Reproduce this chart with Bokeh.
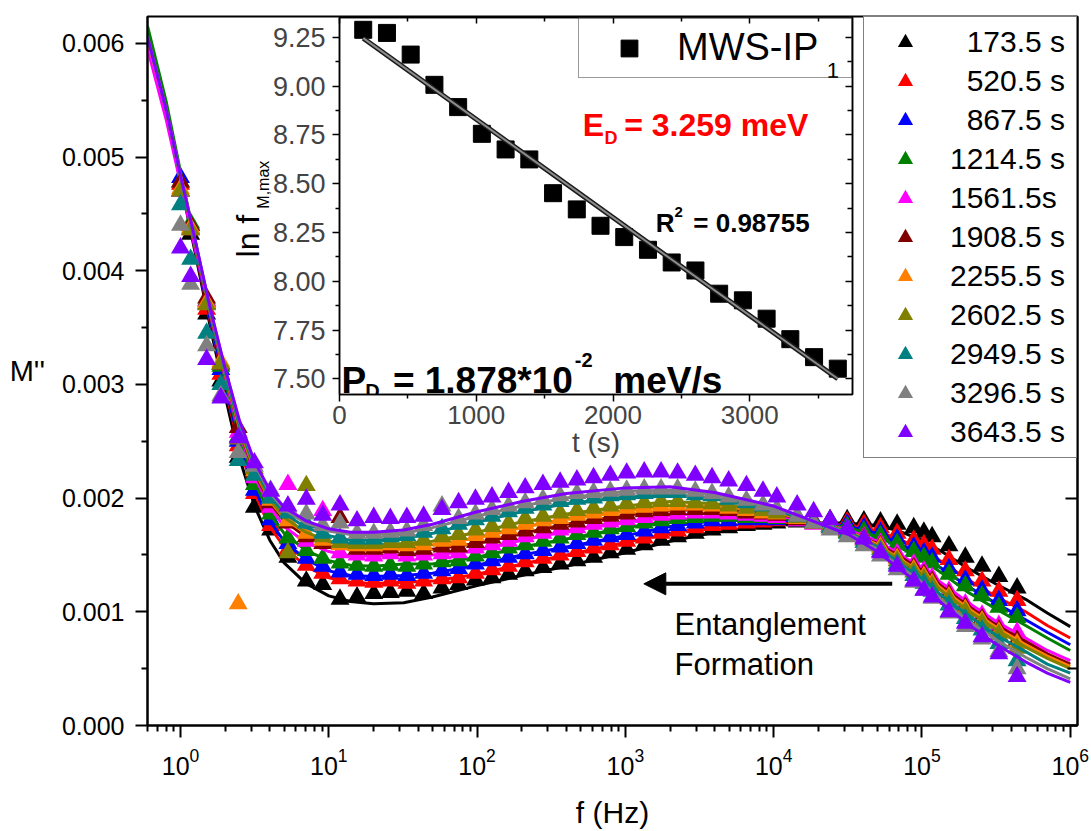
import numpy as np
from bokeh.plotting import figure
from bokeh.models import (Range1d, FixedTicker, NumeralTickFormatter, LinearAxis,
                          Legend, LegendItem, Label, Arrow, NormalHead,
                          ColumnDataSource, CustomJSTickFormatter)
from bokeh.layouts import column
from bokeh.embed import file_html
from bokeh.resources import INLINE

FONT = "Liberation Sans"

# ---------------- main chart data ----------------
# measured frequencies (Hz)
freq_hz = [1.0, 1.17, 1.5, 1.87, 2.45, 3.15, 4.05, 5.3, 7.05, 9.1,
           11.9, 15.5, 20.1, 26.0, 33.6, 43.6, 58.0, 75.0, 97.5, 126,
           163, 211, 278, 363, 471, 610, 791, 1020, 1340, 1740,
           2250, 2960, 3840, 4970, 6550, 8470, 10500, 14400, 18600, 24000,
           31300, 40600, 52500, 68000, 88000, 103000, 117000, 152000, 196000, 254000,
           330000, 438000]

# frequencies at which the fitted curves are tabulated (Hz)
fit_hz = [0.6, 0.8, 1.0, 1.26, 1.58, 2.0, 2.5, 3.16, 4.0, 5.0,
          7.0, 10, 14, 20, 32, 50, 100, 200, 400, 1000,
          2000, 4000, 1e4, 2e4, 3.2e4, 5e4, 7e4, 1e5, 1.4e5, 2e5,
          3.2e5, 5e5, 7e5, 1e6]

M_UNIT = 1e-5  # all M'' lists below are in units of 1e-5

m_173_5 = [470, 432, 362, 303, 236, 192, 172, 148, 127, 124, 111, 113, 116, 117, 118, 116, 121, 124, 128, 130,
           133, 136, 139, 142, 145, 148, 152, 155, 159, 163, 166, 169, 172, 174, 176, 177, 178, 179, 180, 181,
           181, 180, 179, 177, 174, 170, 166, 158, 148, 140, 131, 121]
m_520_5 = [476, 436, 366, 309, 246, 204, 176, 155, 141, 134, 129, 127, 126, 127, 125, 127, 129, 130, 134, 137,
           140, 144, 147, 150, 153, 156, 159, 162, 165, 169, 171, 174, 176, 177, 178, 179, 180, 180, 180, 180,
           179, 177, 174, 169, 163, 159, 155, 146, 136, 127, 118, 110]
m_867_5 = [482, 440, 371, 313, 250, 207, 181, 160, 147, 140, 135, 133, 132, 133, 132, 134, 136, 138, 142, 145,
           148, 151, 154, 157, 160, 163, 166, 168, 171, 174, 176, 178, 180, 180, 181, 181, 181, 180, 179, 178,
           177, 174, 170, 164, 157, 152, 148, 138, 128, 119, 110, 101]
m_1214_5 = [478, 442, 374, 316, 254, 212, 186, 165, 154, 147, 143, 141, 140, 141, 140, 142, 144, 145, 149, 152,
            156, 159, 162, 165, 168, 170, 173, 175, 178, 180, 182, 183, 184, 184, 183, 183, 182, 180, 178, 177,
            175, 171, 167, 160, 153, 148, 143, 133, 123, 114, 104, 95]
m_1561_5 = [470, 437, 373, 318, 258, 218, 192, 212, 162, 189, 152, 150, 149, 151, 149, 150, 151, 152, 156, 159,
            162, 166, 169, 172, 174, 177, 179, 181, 183, 185, 186, 187, 187, 186, 185, 184, 183, 180, 177, 175,
            172, 166, 160, 151, 142, 136, 130, 118, 107, 97, 88, 82]
m_1908_5 = [478, 440, 376, 318, 262, 222, 196, 178, 166, 160, 183, 155, 155, 156, 154, 155, 157, 157, 161, 165,
            168, 171, 174, 177, 179, 182, 184, 186, 188, 189, 190, 190, 190, 189, 187, 186, 185, 181, 178, 175,
            171, 165, 158, 148, 139, 133, 127, 115, 104, 94, 84, 75]
m_2255_5 = [472, 438, 372, 320, 107, 224, 198, 180, 169, 163, 159, 158, 158, 159, 158, 159, 162, 163, 167, 170,
            173, 177, 180, 182, 185, 187, 189, 191, 192, 193, 194, 194, 193, 191, 189, 187, 186, 182, 178, 175,
            170, 164, 157, 147, 137, 131, 125, 113, 102, 92, 82, 72]
m_2602_5 = [470, 436, 370, 318, 252, 226, 200, 152, 211, 166, 161, 160, 160, 161, 161, 163, 166, 168, 172, 175,
            178, 182, 184, 187, 189, 191, 193, 195, 196, 197, 197, 196, 195, 193, 191, 189, 187, 183, 178, 174,
            170, 163, 155, 145, 135, 129, 123, 111, 100, 90, 80, 68]
m_2949_5 = [458, 410, 345, 300, 233, 220, 200, 187, 178, 169, 165, 164, 164, 166, 167, 170, 173, 177, 181, 184,
            188, 191, 194, 197, 199, 200, 202, 203, 204, 205, 205, 203, 202, 199, 196, 193, 190, 184, 179, 174,
            169, 161, 153, 142, 132, 125, 118, 106, 94, 84, 72, 57]
m_3296_5 = [440, 388, 334, 290, 240, 228, 207, 192, 186, 176, 178, 169, 169, 170, 171, 176, 193, 182, 186, 190,
            193, 196, 199, 202, 204, 205, 206, 207, 208, 208, 208, 206, 204, 201, 198, 194, 190, 184, 178, 172,
            166, 158, 149, 137, 126, 119, 112, 99, 87, 76, 65, 50]
m_3643_5 = [420, 395, 322, 288, 253, 231, 206, 193, 199, 185, 194, 180, 183, 182, 183, 184, 190, 196, 199, 201,
            205, 209, 212, 214, 216, 218, 220, 222, 223, 223, 222, 220, 218, 215, 211, 206, 201, 194, 188, 181,
            173, 164, 152, 140, 127, 119, 113, 100, 90, 78, 63, 43]

fit_173_5 = [610, 540, 478, 415, 352, 290, 235, 193, 163, 143, 125, 114, 109, 107, 108, 113, 123, 132, 140, 152,
             162, 170, 176, 178, 178, 176, 171, 163, 152, 139, 124, 111, 99, 87]
fit_520_5 = [609, 541, 480, 418, 356, 297, 244, 204, 175, 157, 140, 130, 126, 125, 126, 127, 133, 142, 150, 161,
             169, 175, 179, 178, 176, 171, 164, 155, 143, 129, 113, 100, 88, 77]
fit_867_5 = [608, 541, 480, 419, 358, 299, 248, 208, 180, 162, 146, 136, 132, 131, 132, 134, 141, 150, 157, 167,
             175, 180, 181, 178, 175, 169, 160, 150, 137, 123, 107, 93, 82, 71]
fit_1214_5 = [615, 549, 487, 425, 362, 303, 253, 214, 186, 169, 154, 145, 141, 140, 142, 142, 148, 157, 164, 174,
              180, 183, 183, 178, 174, 166, 157, 146, 133, 118, 102, 88, 77, 66]
fit_1561_5 = [595, 533, 477, 419, 363, 306, 257, 219, 192, 175, 161, 153, 149, 149, 150, 150, 154, 163, 171, 179,
              185, 187, 185, 178, 172, 162, 151, 138, 124, 109, 91, 77, 66, 57]
fit_1908_5 = [606, 542, 483, 423, 364, 308, 260, 222, 196, 180, 166, 158, 155, 154, 156, 155, 160, 169, 177, 185,
              189, 190, 187, 178, 171, 160, 149, 136, 121, 106, 88, 74, 63, 54]
fit_2255_5 = [603, 542, 483, 424, 365, 309, 261, 224, 198, 182, 169, 161, 158, 157, 159, 159, 165, 174, 182, 189,
              193, 193, 188, 178, 171, 159, 147, 134, 119, 104, 86, 71, 61, 52]
fit_2602_5 = [606, 542, 483, 424, 365, 310, 262, 225, 199, 183, 170, 162, 159, 159, 160, 162, 170, 179, 186, 193,
              197, 195, 189, 178, 170, 158, 146, 133, 117, 102, 84, 69, 59, 50]
fit_2949_5 = [606, 542, 483, 425, 366, 311, 264, 228, 202, 187, 174, 167, 163, 163, 165, 169, 179, 188, 195, 201,
              203, 200, 190, 178, 170, 157, 143, 129, 113, 98, 79, 65, 54, 46]
fit_3296_5 = [605, 542, 484, 426, 367, 313, 267, 230, 205, 190, 178, 171, 168, 168, 169, 174, 184, 193, 200, 206,
              207, 203, 192, 178, 169, 155, 140, 126, 109, 93, 75, 60, 50, 41]
fit_3643_5 = [605, 542, 484, 426, 368, 314, 268, 232, 207, 192, 180, 173, 170, 170, 172, 177, 188, 197, 204, 209,
              210, 205, 193, 178, 168, 153, 138, 123, 106, 90, 71, 56, 46, 38]

series_labels = ["173.5 s", "520.5 s", "867.5 s", "1214.5 s", "1561.5s", "1908.5 s",
                 "2255.5 s", "2602.5 s", "2949.5 s", "3296.5 s", "3643.5 s"]
series_colors = ["#000000", "#FF0000", "#0000FF", "#008000", "#FF00FF", "#800000",
                 "#FF8000", "#808000", "#008080", "#808080", "#8000FF"]
data_lists = [m_173_5, m_520_5, m_867_5, m_1214_5, m_1561_5, m_1908_5,
              m_2255_5, m_2602_5, m_2949_5, m_3296_5, m_3643_5]
fit_lists = [fit_173_5, fit_520_5, fit_867_5, fit_1214_5, fit_1561_5, fit_1908_5,
             fit_2255_5, fit_2602_5, fit_2949_5, fit_3296_5, fit_3643_5]

y_ticks = [0.0, 0.001, 0.002, 0.003, 0.004, 0.005, 0.006]
y_minor = [0.0005, 0.0015, 0.0025, 0.0035, 0.0045, 0.0055]
x_ticks = [1, 10, 100, 1e3, 1e4, 1e5, 1e6]

# ---------------- inset data ----------------
t_s = [173.5, 347.0, 520.5, 694.0, 867.5, 1041.0, 1214.5, 1388.0, 1561.5, 1735.0, 1908.5,
       2082.0, 2255.5, 2429.0, 2602.5, 2776.0, 2949.5, 3123.0, 3296.5, 3470.0, 3643.5]
ln_fmax = [9.288, 9.272, 9.161, 9.006, 8.892, 8.755, 8.675, 8.624, 8.451, 8.368, 8.284,
           8.226, 8.161, 8.096, 8.055, 7.936, 7.902, 7.808, 7.703, 7.611, 7.552]
inset_y_ticks = [7.5, 7.75, 8.0, 8.25, 8.5, 8.75, 9.0, 9.25]
inset_y_minor = [7.625, 7.875, 8.125, 8.375, 8.625, 8.875, 9.125]
inset_x_ticks = [0, 1000, 2000, 3000]
inset_x_minor = [500, 1500, 2500, 3500]

# ================= main figure =================
X_MIN, X_MAX = 0.599, 1.119e6
Y_MIN, Y_MAX = 0.0, 0.006236

p = figure(width=1091, height=831, x_axis_type="log",
           x_range=Range1d(X_MIN, X_MAX), y_range=Range1d(Y_MIN, Y_MAX),
           output_backend="svg", toolbar_location=None,
           min_border_left=147, min_border_right=14, min_border_top=16, min_border_bottom=104)
p.xgrid.visible = False
p.ygrid.visible = False
p.outline_line_color = "black"
p.outline_line_width = 2
p.background_fill_color = "white"
p.border_fill_color = "white"

x_minor = [m * 10.0 ** e for e in range(-1, 6) for m in range(2, 10)
           if X_MIN <= m * 10.0 ** e <= X_MAX]

xa = p.xaxis[0]
xa.ticker = FixedTicker(ticks=x_ticks, minor_ticks=x_minor)
xa.axis_label = "f (Hz)"
xa.axis_label_text_font = FONT
xa.axis_label_text_font_size = "30px"
xa.axis_label_text_font_style = "normal"
xa.axis_label_text_color = "black"
xa.axis_label_standoff = 18
xa.major_label_text_font = FONT
xa.major_label_text_font_size = "25px"
xa.major_label_text_color = "black"
xa.major_label_standoff = 10
xa.major_tick_out = 12
xa.major_tick_in = 0
xa.minor_tick_out = 6
xa.minor_tick_in = 0
xa.axis_line_width = 2
xa.major_tick_line_width = 2
xa.minor_tick_line_width = 2

ya = p.yaxis[0]
ya.ticker = FixedTicker(ticks=y_ticks, minor_ticks=y_minor)
ya.formatter = NumeralTickFormatter(format="0.000")
ya.axis_label = "M''"
try:
    ya.axis_label_orientation = "horizontal"
except Exception:
    pass
ya.axis_label_text_font = FONT
ya.axis_label_text_font_size = "29px"
ya.axis_label_text_font_style = "normal"
ya.axis_label_text_color = "black"
ya.axis_label_standoff = 14
ya.major_label_text_font = FONT
ya.major_label_text_font_size = "25px"
ya.major_label_text_color = "black"
ya.major_label_standoff = 11
ya.major_tick_out = 12
ya.major_tick_in = 0
ya.minor_tick_out = 6
ya.minor_tick_in = 0
ya.axis_line_width = 2
ya.major_tick_line_width = 2
ya.minor_tick_line_width = 2

blank = CustomJSTickFormatter(code="return ''")
ra = LinearAxis(ticker=FixedTicker(ticks=y_ticks, minor_ticks=y_minor), formatter=blank,
                major_tick_in=12, major_tick_out=0, minor_tick_in=10, minor_tick_out=0,
                major_label_standoff=0, major_label_text_font_size="1px",
                axis_line_width=2, major_tick_line_width=2, minor_tick_line_width=2)
p.add_layout(ra, "right")

items = []
for lbl, col, dl, fl in zip(series_labels, series_colors, data_lists, fit_lists):
    src = ColumnDataSource(dict(f=freq_hz, m=[v * M_UNIT for v in dl]))
    r = p.scatter("f", "m", source=src, marker="triangle", size=19,
                  fill_color=col, line_color=None)
    p.line(fit_hz, [v * M_UNIT for v in fl], line_color=col, line_width=3)
    pad = "\u00a0\u00a0" if len(lbl.split(".")[0]) == 3 else ""
    items.append(LegendItem(label=pad + lbl, renderers=[r]))

leg = Legend(items=items, location="top_right", margin=0, padding=6, spacing=1,
             glyph_width=70, glyph_height=38, label_height=38, label_width=120,
             label_standoff=10, label_text_font=FONT, label_text_font_size="30px",
             label_text_color="black",
             border_line_color="black", border_line_width=1,
             background_fill_color="white", background_fill_alpha=1.0)
p.add_layout(leg)

# arrow + annotation text
ARROW_F0, ARROW_F1, ARROW_M = 6.30e4, 1331.0, 0.001246
p.add_layout(Arrow(end=NormalHead(size=22, fill_color="black", line_color="black"),
                   x_start=ARROW_F0, y_start=ARROW_M, x_end=ARROW_F1, y_end=ARROW_M,
                   line_width=4, line_color="black"))
p.add_layout(Label(x=2143, y=0.000885, text="Entanglement", text_font=FONT,
                   text_font_size="31px", text_color="black", text_baseline="alphabetic"))
p.add_layout(Label(x=2143, y=0.000534, text="Formation", text_font=FONT,
                   text_font_size="31px", text_color="black", text_baseline="alphabetic"))

# inset y-axis title (sits left of the inset, drawn on the main canvas)
p.add_layout(Label(x=2.874, y=0.0041165, text="ln f", text_font=FONT, text_font_size="32px",
                   text_color="black", text_baseline="alphabetic", text_align="left",
                   angle=np.pi / 2))
p.add_layout(Label(x=3.628, y=0.0045456, text="M,max", text_font=FONT, text_font_size="16px",
                   text_color="black", text_baseline="alphabetic", text_align="left",
                   angle=np.pi / 2))

# ================= inset figure =================
q = figure(width=674, height=465, x_range=Range1d(0, 3751), y_range=Range1d(7.4196, 9.351),
           output_backend="svg", toolbar_location=None,
           min_border_left=145, min_border_right=10, min_border_top=17, min_border_bottom=71,
           margin=(-831, 0, 0, 192))
q.xgrid.visible = False
q.ygrid.visible = False
q.border_fill_color = None
q.background_fill_color = "white"
q.outline_line_color = "black"
q.outline_line_width = 1.5

qx = q.xaxis[0]
qx.ticker = FixedTicker(ticks=inset_x_ticks, minor_ticks=inset_x_minor)
qx.formatter = NumeralTickFormatter(format="0")
qx.axis_label = "t (s)"
qx.axis_label_text_font = FONT
qx.axis_label_text_font_size = "28px"
qx.axis_label_text_font_style = "normal"
qx.axis_label_standoff = 0
qx.major_label_text_font = FONT
qx.major_label_text_font_size = "26px"
qx.major_label_standoff = 4
qx.major_tick_out = 7
qx.major_tick_in = 0
qx.minor_tick_out = 4
qx.minor_tick_in = 0
qx.axis_line_width = 1.5
qx.major_tick_line_width = 1.5
qx.minor_tick_line_width = 1.5

qy = q.yaxis[0]
qy.ticker = FixedTicker(ticks=inset_y_ticks, minor_ticks=inset_y_minor)
qy.formatter = NumeralTickFormatter(format="0.00")
qy.major_label_text_font = FONT
qy.major_label_text_font_size = "27px"
qy.major_label_standoff = 7
qy.major_tick_out = 7
qy.major_tick_in = 0
qy.minor_tick_out = 4
qy.minor_tick_in = 0
qy.axis_line_width = 1.5
qy.major_tick_line_width = 1.5
qy.minor_tick_line_width = 1.5

qra = LinearAxis(ticker=FixedTicker(ticks=inset_y_ticks, minor_ticks=inset_y_minor), formatter=blank,
                 major_tick_in=7, major_tick_out=0, minor_tick_in=5, minor_tick_out=0,
                 major_label_standoff=0, major_label_text_font_size="1px",
                 axis_line_width=1.5, major_tick_line_width=1.5, minor_tick_line_width=1.5)
q.add_layout(qra, "right")
qta = LinearAxis(ticker=FixedTicker(ticks=inset_x_ticks, minor_ticks=inset_x_minor), formatter=blank,
                 major_tick_in=6, major_tick_out=0, minor_tick_in=4, minor_tick_out=0,
                 major_label_standoff=0, major_label_text_font_size="1px",
                 axis_line_width=1.5, major_tick_line_width=1.5, minor_tick_line_width=1.5)
q.add_layout(qta, "above")

sq = q.scatter(t_s, ln_fmax, marker="square", size=17, fill_color="black", line_color="black")
coef = np.polyfit(t_s, ln_fmax, 1)
t_line = [min(t_s), max(t_s)]
ln_line = list(np.polyval(coef, t_line))
q.line(t_line, ln_line, line_color="#1a1a1a", line_width=5)
q.line(t_line, ln_line, line_color="#8c8c8c", line_width=2)

# legend background is transparent (frame is white there) so the subscript shows through
qleg = Legend(items=[LegendItem(label="MWS-IP", renderers=[sq])], location="top_right",
              margin=0, padding=8, glyph_width=84, glyph_height=42, label_height=42,
              label_width=166, label_standoff=6, label_text_font=FONT,
              label_text_font_size="38px", label_text_color="black",
              border_line_color="#333333", border_line_width=1,
              background_fill_color="white", background_fill_alpha=0.0)
q.add_layout(qleg)


def qlabel(x, y, text, size, color="black", bold=False, level="annotation"):
    q.add_layout(Label(x=x, y=y, text=text, text_font=FONT, text_font_size=size,
                       text_color=color, text_font_style="bold" if bold else "normal",
                       text_baseline="alphabetic", text_align="left", level=level))


qlabel(3563, 9.0795, "1", "22px", level="overlay")
qlabel(1778, 8.798, "E", "32px", "#FF0000", True)
qlabel(1937, 8.736, "D", "18px", "#FF0000", True)
qlabel(2081.5, 8.798, "= 3.259 meV", "32px", "#FF0000", True)
qlabel(2313, 8.2957, "R", "26px", bold=True)
qlabel(2450, 8.3571, "2", "15px", bold=True)
qlabel(2587, 8.2957, "= 0.98755", "26px", bold=True)
qlabel(14.5, 7.4913, "P", "37px", bold=True)
qlabel(188, 7.4350, "D", "20px", bold=True)
qlabel(390.3, 7.4913, "= 1.878*10", "37px", bold=True)
qlabel(1720, 7.5938, "-2", "20px", bold=True)
qlabel(2002, 7.4913, "meV/s", "37px", bold=True)

layout = column(p, q)
open("out.html", "w").write(file_html(layout, INLINE, title="M'' vs f"))
